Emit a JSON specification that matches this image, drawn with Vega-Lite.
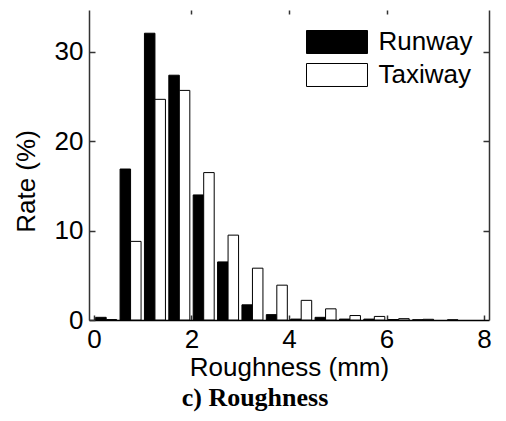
{
  "$schema": "https://vega.github.io/schema/vega-lite/v6.json",
  "width": 400,
  "height": 310,
  "autosize": {"type": "none"},
  "padding": {"left": 89, "top": 10, "right": 17, "bottom": 101},
  "background": "white",
  "config": {
    "view": {"stroke": null},
    "font": "Liberation Sans",
    "axis": {"grid": false, "labelFont": "Liberation Sans", "titleFont": "Liberation Sans", "labelColor": "black", "titleColor": "black", "domainColor": "#333", "tickColor": "#333", "domainWidth": 1.5, "tickWidth": 1.5}
  },
  "title": {"text": "c) Roughness", "orient": "bottom", "anchor": "middle", "frame": "group", "dx": -34, "font": "Liberation Serif", "fontWeight": "bold", "fontSize": 26, "color": "black", "offset": 5},
  "data": {
    "values": [
      {"roughness": 0.25, "series": "Runway", "rate": 0.3},
      {"roughness": 0.75, "series": "Runway", "rate": 16.9},
      {"roughness": 1.25, "series": "Runway", "rate": 32.1},
      {"roughness": 1.75, "series": "Runway", "rate": 27.4},
      {"roughness": 2.25, "series": "Runway", "rate": 14.0},
      {"roughness": 2.75, "series": "Runway", "rate": 6.5},
      {"roughness": 3.25, "series": "Runway", "rate": 1.7},
      {"roughness": 3.75, "series": "Runway", "rate": 0.6},
      {"roughness": 4.25, "series": "Runway", "rate": 0.1},
      {"roughness": 4.75, "series": "Runway", "rate": 0.3},
      {"roughness": 5.25, "series": "Runway", "rate": 0.1},
      {"roughness": 5.75, "series": "Runway", "rate": 0.1},
      {"roughness": 6.25, "series": "Runway", "rate": 0.05},
      {"roughness": 6.75, "series": "Runway", "rate": 0.02},
      {"roughness": 0.25, "series": "Taxiway", "rate": 0.05},
      {"roughness": 0.75, "series": "Taxiway", "rate": 8.8},
      {"roughness": 1.25, "series": "Taxiway", "rate": 24.7},
      {"roughness": 1.75, "series": "Taxiway", "rate": 25.7},
      {"roughness": 2.25, "series": "Taxiway", "rate": 16.5},
      {"roughness": 2.75, "series": "Taxiway", "rate": 9.5},
      {"roughness": 3.25, "series": "Taxiway", "rate": 5.8},
      {"roughness": 3.75, "series": "Taxiway", "rate": 3.9},
      {"roughness": 4.25, "series": "Taxiway", "rate": 2.2},
      {"roughness": 4.75, "series": "Taxiway", "rate": 1.25},
      {"roughness": 5.25, "series": "Taxiway", "rate": 0.5},
      {"roughness": 5.75, "series": "Taxiway", "rate": 0.4},
      {"roughness": 6.25, "series": "Taxiway", "rate": 0.15},
      {"roughness": 6.75, "series": "Taxiway", "rate": 0.08},
      {"roughness": 7.25, "series": "Taxiway", "rate": 0.02}
    ]
  },
  "resolve": {"axis": {"x": "independent", "y": "independent"}},
  "layer": [
    {
      "transform": [{"filter": "datum.series === 'Runway'"}],
      "mark": {"type": "bar", "width": 10.5, "xOffset": -5.25, "stroke": "black", "strokeWidth": 1},
      "encoding": {
        "x": {"field": "roughness", "type": "quantitative", "scale": {"domain": [0, 8]},
          "axis": {"orient": "bottom", "values": [0, 2, 4, 6, 8], "tickSize": -5, "labelPadding": 11, "labelFontSize": 26, "labelFlush": false, "title": "Roughness (mm)", "titleFontSize": 26, "titleFontWeight": "normal", "titlePadding": 2, "domainColor": "black"}},
        "y": {"field": "rate", "type": "quantitative", "scale": {"domain": [0, 34.7], "nice": false},
          "axis": {"orient": "left", "values": [0, 10, 20, 30], "tickSize": -6, "labelPadding": 12, "labelFontSize": 26, "title": "Rate (%)", "titleFontSize": 26, "titleFontWeight": "normal", "titleX": -63, "titleY": 171, "titleAlign": "center", "titleBaseline": "middle"}},
        "fill": {"field": "series", "type": "nominal", "scale": {"domain": ["Runway", "Taxiway"], "range": ["black", "white"]},
          "legend": {"orient": "none", "legendX": 232, "legendY": 16, "title": null, "labelFontSize": 26, "labelFont": "Liberation Sans", "labelColor": "black", "symbolType": "M-2,-0.754H2V0.754H-2Z", "symbolSize": 930, "symbolStrokeColor": "black", "symbolStrokeWidth": 1, "labelOffset": 25.5, "rowPadding": 3}}
      }
    },
    {
      "transform": [{"filter": "datum.series === 'Taxiway'"}],
      "mark": {"type": "bar", "width": 10.5, "xOffset": 5.25, "stroke": "black", "strokeWidth": 1},
      "encoding": {
        "x": {"field": "roughness", "type": "quantitative", "scale": {"domain": [0, 8]},
          "axis": {"orient": "top", "values": [2, 4, 6], "tickSize": -4, "labels": false, "title": null, "domain": false}},
        "y": {"field": "rate", "type": "quantitative", "scale": {"domain": [0, 34.7], "nice": false},
          "axis": {"orient": "right", "values": [10, 20, 30], "tickSize": -6, "labels": false, "title": null}},
        "fill": {"field": "series", "type": "nominal"}
      }
    }
  ]
}
